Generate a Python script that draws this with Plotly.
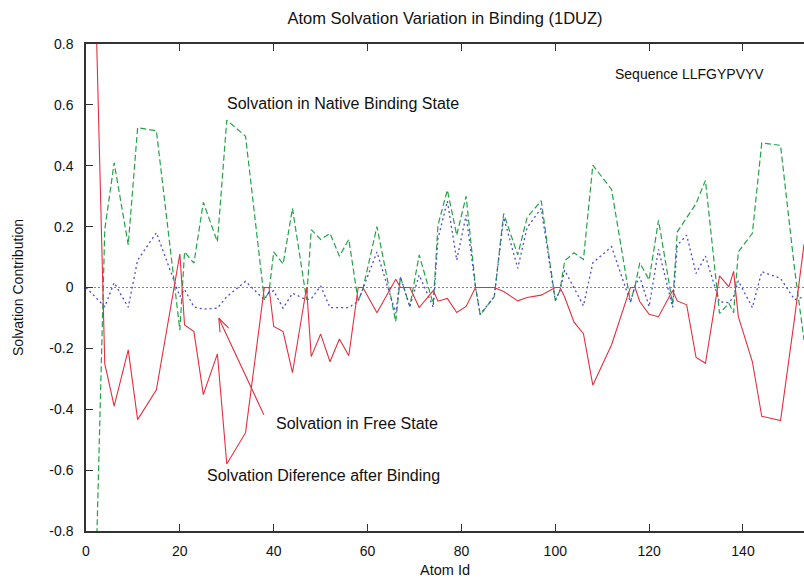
import math
import plotly.graph_objects as go

# Atom ids at which solvation contributions were sampled
atom_id = [0, 4, 6, 9, 11, 15, 20, 21, 23, 25, 28, 30, 34, 38, 39, 40, 42, 44, 47, 48,
           50, 52, 54, 56, 58, 59, 62, 66, 67, 69, 71, 74, 75, 77, 79, 81, 83, 84, 87, 89,
           92, 94, 97, 100, 101, 102, 104, 106, 108, 112, 116, 117, 118, 120, 122, 125, 126,
           128, 130, 132, 135, 137, 138, 139, 142, 144, 148, 151, 153]

# Solvation in the native binding state (green dashed)
native_bound = [-2.2, 0.19, 0.41, 0.14, 0.525, 0.515, -0.14, 0.117, 0.08, 0.28, 0.15, 0.55,
                0.497, -0.04, -0.015, 0.117, 0.077, 0.26, -0.04, 0.19, 0.158, 0.178, 0.103,
                0.158, -0.045, -0.005, 0.2, -0.112, 0.035, -0.063, 0.107, -0.055, 0.205, 0.32,
                0.172, 0.3, 0.003, -0.09, -0.03, 0.243, 0.107, 0.23, 0.285, -0.043, -0.01,
                0.088, 0.114, 0.092, 0.402, 0.322, -0.048, 0.005, 0.081, 0.025, 0.221, -0.055,
                0.183, 0.229, 0.276, 0.352, -0.085, -0.052, -0.083, 0.117, 0.178, 0.475, 0.467,
                0.06, -0.172]

# Solvation in the free state (blue dotted)
free_state = [0.0, -0.063, 0.016, -0.065, 0.09, 0.18, -0.03, -0.006, -0.064, -0.071, -0.068,
              -0.03, 0.02, -0.04, -0.015, -0.011, -0.068, -0.019, -0.04, -0.037, 0.005, -0.066,
              -0.066, -0.066, -0.045, -0.005, 0.117, -0.085, 0.035, -0.063, 0.041, -0.065, 0.16,
              0.284, 0.09, 0.238, 0.0, -0.088, -0.03, 0.23, 0.063, 0.197, 0.26, -0.043, -0.01,
              0.057, 0.0, -0.06, 0.081, 0.134, -0.048, 0.005, 0.035, -0.063, 0.125, -0.065,
              0.139, 0.172, 0.046, 0.103, -0.047, -0.05, -0.03, 0.022, -0.066, 0.052, 0.03,
              -0.04, -0.03]

# Solvation difference after binding (red solid)
difference = [2.2, -0.25, -0.39, -0.205, -0.434, -0.336, 0.11, -0.123, -0.145, -0.352, -0.218,
              -0.58, -0.477, 0.0, 0.0, -0.128, -0.145, -0.28, 0.0, -0.227, -0.153, -0.244,
              -0.169, -0.224, 0.0, 0.0, -0.083, 0.027, 0.0, 0.0, -0.066, -0.01, -0.045, -0.036,
              -0.082, -0.062, 0.0, 0.0, 0.0, -0.013, -0.044, -0.033, -0.025, 0.0, 0.0, -0.031,
              -0.114, -0.152, -0.321, -0.188, 0.0, 0.0, -0.046, -0.088, -0.096, -0.01, -0.044,
              -0.057, -0.23, -0.249, 0.038, 0.002, 0.053, -0.095, -0.244, -0.423, -0.437,
              -0.1, 0.142]

x_ticks = [0, 20, 40, 60, 80, 100, 120, 140]
y_ticks = [-0.8, -0.6, -0.4, -0.2, 0, 0.2, 0.4, 0.6, 0.8]
y_tick_labels = ["-0.8", "-0.6", "-0.4", "-0.2", "0", "0.2", "0.4", "0.6", "0.8"]

FONT = "Liberation Sans, Arial, Helvetica, sans-serif"
W, H = 804, 579
M_L, M_R, M_T, M_B = 86, 0, 44, 48
X_RANGE = [0, 153]
Y_RANGE = [-0.8, 0.8]

fig = go.Figure()
fig.add_trace(go.Scatter(x=atom_id, y=native_bound, mode="lines",
                         line=dict(color="#22a446", width=1.2, dash="6px,3px"),
                         name="Solvation in Native Binding State"))
fig.add_trace(go.Scatter(x=atom_id, y=free_state, mode="lines",
                         line=dict(color="#4b4bd6", width=1.3, dash="2px,3px"),
                         name="Solvation in Free State"))
fig.add_trace(go.Scatter(x=atom_id, y=difference, mode="lines",
                         line=dict(color="#e3303e", width=1.1),
                         name="Solvation Diference after Binding"))

# dotted zero axis
fig.add_shape(type="line", xref="paper", yref="y", x0=0, x1=1, y0=0, y1=0,
              line=dict(color="#ff4d73", width=1, dash="2px,2px"), layer="below")

# open-headed arrow pointing at the free-state curve
tip = (28.3, -0.101)
tail = (37.9, -0.418)
px_per_x = (W - M_L - M_R) / (X_RANGE[1] - X_RANGE[0])
px_per_y = (H - M_T - M_B) / (Y_RANGE[1] - Y_RANGE[0])
dxp = (tail[0] - tip[0]) * px_per_x
dyp = (tail[1] - tip[1]) * px_per_y
ang = math.atan2(dyp, dxp)
head_len, head_ang = 14, math.radians(20)
arms = []
for s in (1, -1):
    a = ang + s * head_ang
    arms.append((tip[0] + head_len * math.cos(a) / px_per_x,
                 tip[1] + head_len * math.sin(a) / px_per_y))
arrow_style = dict(color="#e3303e", width=1.1)
fig.add_shape(type="line", x0=tail[0], y0=tail[1], x1=tip[0], y1=tip[1], line=arrow_style)
for ax_, ay_ in arms:
    fig.add_shape(type="line", x0=tip[0], y0=tip[1], x1=ax_, y1=ay_, line=arrow_style)

labels = [
    ("Solvation in Native Binding State", 29.7, 0.605, 16),
    ("Solvation in Free State", 40.0, -0.448, 16),
    ("Solvation Diference after Binding", 25.3, -0.619, 16),
    ("Sequence LLFGYPVYV", 112.3, 0.70, 14),
]
for text, lx, ly, fs in labels:
    fig.add_annotation(x=lx, y=ly, text=text, showarrow=False, xanchor="left",
                       yanchor="middle", font=dict(family=FONT, size=fs, color="#111"))

axis_common = dict(showgrid=False, zeroline=False, showline=True, linecolor="#333",
                   linewidth=1.5, ticks="inside", ticklen=7, tickwidth=1.2,
                   tickcolor="#333", tickfont=dict(family=FONT, size=14, color="#111"))

fig.update_xaxes(range=X_RANGE, tickvals=x_ticks, mirror="ticks",
                 title=dict(text="Atom Id", font=dict(family=FONT, size=14.5, color="#111"),
                            standoff=7),
                 ticklabelstandoff=6, **axis_common)
fig.update_yaxes(range=Y_RANGE, tickvals=y_ticks, ticktext=y_tick_labels, mirror=False,
                 title=dict(text="Solvation Contribution",
                            font=dict(family=FONT, size=14, color="#111"), standoff=22),
                 ticklabelstandoff=8, **axis_common)

fig.update_layout(
    width=W, height=H,
    margin=dict(l=M_L, r=M_R, t=M_T, b=M_B),
    paper_bgcolor="white", plot_bgcolor="white",
    showlegend=False,
    title=dict(text="Atom Solvation Variation in Binding (1DUZ)", x=0.5, xref="paper",
               y=1 - 18 / H, yref="container", yanchor="middle", xanchor="center",
               font=dict(family=FONT, size=16.5, color="#111")),
)

fig.write_html("out.html")
